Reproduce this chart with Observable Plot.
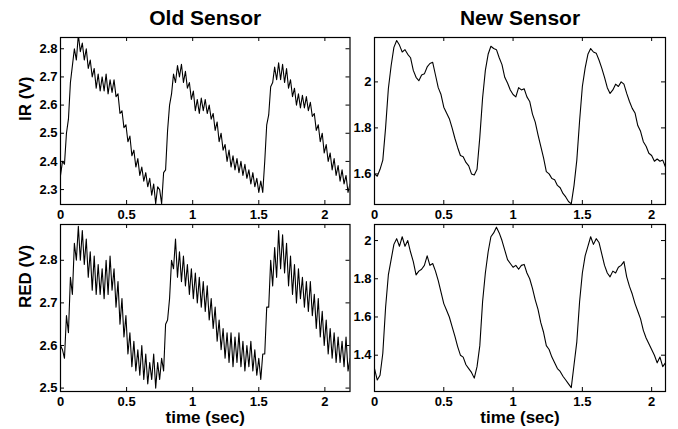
<!DOCTYPE html>
<html>
<head>
<meta charset="utf-8">
<script src="https://cdn.jsdelivr.net/npm/d3@7"></script>
<script src="https://cdn.jsdelivr.net/npm/@observablehq/plot@0.6"></script>
<style>
  body { margin: 0; background: white; }
  #wrap { position: relative; width: 678px; height: 429px; overflow: hidden; }
  .panel { position: absolute; }
</style>
</head>
<body>
<div id="wrap"></div>
<script>
// Sampling intervals (seconds)
const dtOld = 0.015;
const dtNew = 0.02;

// Old sensor, IR channel (V)
const oldIR = [
  2.35, 2.40, 2.39, 2.50, 2.55, 2.68, 2.74, 2.80, 2.76, 2.85,
  2.79, 2.82, 2.76, 2.80, 2.73, 2.76, 2.70, 2.73, 2.66, 2.71,
  2.65, 2.70, 2.65, 2.71, 2.64, 2.69, 2.645, 2.69, 2.63, 2.64,
  2.57, 2.58, 2.52, 2.53, 2.47, 2.49, 2.42, 2.44, 2.38, 2.41,
  2.35, 2.38, 2.33, 2.36, 2.31, 2.34, 2.28, 2.32, 2.25, 2.31,
  2.30, 2.25, 2.36, 2.37, 2.51, 2.60, 2.64, 2.71, 2.68, 2.74,
  2.70, 2.745, 2.68, 2.72, 2.66, 2.68, 2.62, 2.65, 2.58, 2.62,
  2.57, 2.625, 2.58, 2.62, 2.57, 2.60, 2.55, 2.57, 2.51, 2.54,
  2.47, 2.50, 2.44, 2.46, 2.40, 2.44, 2.38, 2.42, 2.37, 2.41,
  2.36, 2.40, 2.35, 2.39, 2.34, 2.37, 2.32, 2.36, 2.31, 2.34,
  2.29, 2.33, 2.29, 2.40, 2.53, 2.565, 2.665, 2.68, 2.735, 2.69,
  2.75, 2.69, 2.745, 2.68, 2.73, 2.66, 2.69, 2.63, 2.66, 2.60,
  2.64, 2.59, 2.635, 2.59, 2.63, 2.58, 2.61, 2.56, 2.57, 2.51,
  2.53, 2.47, 2.50, 2.43, 2.46, 2.40, 2.43, 2.37, 2.41, 2.35,
  2.385, 2.33, 2.37, 2.32, 2.35, 2.29, 2.32
];

// Old sensor, RED channel (V)
const oldRED = [
  2.60, 2.59, 2.57, 2.67, 2.63, 2.76, 2.72, 2.84, 2.80, 2.88,
  2.80, 2.87, 2.79, 2.85, 2.76, 2.82, 2.73, 2.81, 2.72, 2.79,
  2.72, 2.78, 2.71, 2.80, 2.72, 2.81, 2.73, 2.78, 2.69, 2.75,
  2.65, 2.71, 2.62, 2.67, 2.58, 2.63, 2.55, 2.61, 2.54, 2.59,
  2.53, 2.60, 2.52, 2.58, 2.51, 2.56, 2.52, 2.58, 2.50, 2.56,
  2.52, 2.57, 2.54, 2.65, 2.66, 2.71, 2.80, 2.78, 2.85, 2.76,
  2.82, 2.75, 2.81, 2.74, 2.79, 2.72, 2.78, 2.71, 2.77, 2.70,
  2.76, 2.69, 2.75, 2.68, 2.74, 2.66, 2.71, 2.64, 2.69, 2.61,
  2.66, 2.59, 2.64, 2.57, 2.63, 2.56, 2.63, 2.55, 2.62, 2.56,
  2.63, 2.55, 2.61, 2.54, 2.60, 2.55, 2.61, 2.54, 2.59, 2.53,
  2.57, 2.52, 2.58, 2.58, 2.69, 2.69, 2.80, 2.74, 2.83, 2.76,
  2.87, 2.78, 2.86, 2.77, 2.84, 2.74, 2.81, 2.72, 2.79, 2.70,
  2.78, 2.71, 2.76, 2.69, 2.75, 2.68, 2.75, 2.67, 2.72, 2.64,
  2.71, 2.62, 2.68, 2.60, 2.66, 2.58, 2.64, 2.57, 2.63, 2.56,
  2.62, 2.56, 2.61, 2.55, 2.62, 2.54, 2.57
];

// New sensor, IR channel (V)
const newIR = [
  1.60, 1.59, 1.62, 1.66, 1.80, 1.97, 2.07, 2.15, 2.18, 2.16,
  2.13, 2.14, 2.12, 2.105, 2.05, 2.02, 2.005, 2.03, 2.035, 2.065,
  2.08, 2.085, 2.03, 1.975, 1.945, 1.89, 1.865, 1.84, 1.80, 1.755,
  1.715, 1.68, 1.675, 1.65, 1.635, 1.60, 1.595, 1.62, 1.76, 1.93,
  2.05, 2.12, 2.155, 2.145, 2.14, 2.105, 2.075, 2.02, 1.995, 1.965,
  1.945, 1.935, 1.975, 1.965, 1.97, 1.935, 1.915, 1.86, 1.825, 1.77,
  1.72, 1.67, 1.61, 1.60, 1.58, 1.575, 1.55, 1.54, 1.515, 1.50,
  1.48, 1.47, 1.55, 1.66, 1.83, 1.98, 2.06, 2.12, 2.145, 2.13,
  2.125, 2.095, 2.06, 2.02, 1.975, 1.95, 1.965, 1.99, 1.98, 2.00,
  1.99, 1.95, 1.915, 1.885, 1.865, 1.81, 1.785, 1.74, 1.72, 1.69,
  1.68, 1.655, 1.665, 1.655, 1.66, 1.63
];

// New sensor, RED channel (V)
const newRED = [
  1.33, 1.27, 1.295, 1.41, 1.65, 1.82, 1.90, 1.98, 2.01, 1.97,
  2.02, 1.97, 2.00, 1.94, 1.89, 1.82, 1.84, 1.85, 1.87, 1.92,
  1.87, 1.88, 1.84, 1.79, 1.73, 1.67, 1.635, 1.60, 1.55, 1.50,
  1.445, 1.40, 1.39, 1.35, 1.33, 1.31, 1.28, 1.34, 1.45, 1.68,
  1.83, 1.94, 2.02, 2.04, 2.07, 2.04, 2.00, 1.95, 1.90, 1.88,
  1.86, 1.87, 1.85, 1.87, 1.875, 1.83, 1.80, 1.75, 1.69, 1.64,
  1.57, 1.52, 1.45, 1.43, 1.39, 1.36, 1.33, 1.315, 1.29, 1.27,
  1.25, 1.23, 1.35, 1.47, 1.68, 1.83, 1.92, 1.97, 2.02, 1.98,
  2.01, 1.99, 1.93, 1.87, 1.83, 1.81, 1.84, 1.83, 1.86, 1.87,
  1.89, 1.81, 1.76, 1.72, 1.67, 1.63, 1.59, 1.53, 1.49, 1.46,
  1.43, 1.40, 1.36, 1.39, 1.34, 1.36
];

// Tick labels
const xTicks = [0, 0.5, 1, 1.5, 2];
const yTicksOldIR = [2.3, 2.4, 2.5, 2.6, 2.7, 2.8];
const yTicksNewIR = [1.6, 1.8, 2];
const yTicksOldRED = [2.5, 2.6, 2.7, 2.8];
const yTicksNewRED = [1.4, 1.6, 1.8, 2];

// Texts
const titles = ["Old Sensor", "New Sensor"];
const yLabels = ["IR (V)", "RED (V)"];
const xLabel = "time (sec)";

function series(values, dt) {
  return values.map((v, i) => ({t: i * dt, v}));
}

const FONT = "'Liberation Sans', Arial, Helvetica, sans-serif";

function panel({values, dt, xMax, yDomain, yTicks, left, top, width, height, ml, mr, mt, mb, title, yLabel, xLab}) {
  const ih = height - mt - mb;
  const iw = width - ml - mr;
  const tl = 4;
  const marks = [
    Plot.line(series(values, dt), {x: "t", y: "v", stroke: "black", strokeWidth: 1.1, clip: true}),
    Plot.frame({stroke: "black", strokeWidth: 1.2}),
    Plot.tickX(xTicks, {x: d => d, insetTop: ih - tl, stroke: "black"}),
    Plot.tickX(xTicks, {x: d => d, insetBottom: ih - tl, stroke: "black"}),
    Plot.tickY(yTicks, {y: d => d, insetRight: iw - tl, stroke: "black"}),
    Plot.tickY(yTicks, {y: d => d, insetLeft: iw - tl, stroke: "black"}),
    Plot.axisX(xTicks, {tickSize: 0, tickPadding: 5.5, tickFormat: d => String(d), label: null}),
    Plot.axisY(yTicks, {tickSize: 0, tickPadding: 3, tickFormat: d => String(d), label: null})
  ];
  if (title) marks.push(Plot.text([title], {frameAnchor: "top", dy: -19, lineAnchor: "middle", fontSize: 21, fontWeight: "bold", fill: "black"}));
  if (yLabel) marks.push(Plot.text([yLabel], {frameAnchor: "left", dx: -35, rotate: -90, lineAnchor: "middle", fontSize: 17, fontWeight: "bold", fill: "black"}));
  if (xLab) marks.push(Plot.text([xLab], {frameAnchor: "bottom", dy: 26, lineAnchor: "middle", fontSize: 17, fontWeight: "bold", fill: "black"}));
  const svg = Plot.plot({
    width, height,
    marginLeft: ml, marginRight: mr, marginTop: mt, marginBottom: mb,
    x: {domain: [0, xMax], label: null},
    y: {domain: yDomain, label: null},
    style: {background: "transparent", fontFamily: FONT, fontSize: "13px", fontWeight: "bold", color: "black", overflow: "visible"},
    marks
  });
  const div = document.createElement("div");
  div.className = "panel";
  div.style.left = left + "px";
  div.style.top = top + "px";
  div.appendChild(svg);
  document.getElementById("wrap").appendChild(div);
}

// Top-left: Old sensor IR
panel({values: oldIR, dt: dtOld, xMax: 2.19, yDomain: [2.247, 2.84], yTicks: yTicksOldIR,
  left: 0, top: 0, width: 356, height: 225, ml: 60, mr: 6.5, mt: 37, mb: 21,
  title: titles[0], yLabel: yLabels[0]});
// Top-right: New sensor IR
panel({values: newIR, dt: dtNew, xMax: 2.1, yDomain: [1.467, 2.193], yTicks: yTicksNewIR,
  left: 340, top: 0, width: 338, height: 225, ml: 34, mr: 13, mt: 37, mb: 21,
  title: titles[1]});
// Bottom-left: Old sensor RED
panel({values: oldRED, dt: dtOld, xMax: 2.19, yDomain: [2.492, 2.884], yTicks: yTicksOldRED,
  left: 0, top: 200, width: 356, height: 229, ml: 60, mr: 6.5, mt: 24, mb: 38,
  yLabel: yLabels[1], xLab: xLabel});
// Bottom-right: New sensor RED
panel({values: newRED, dt: dtNew, xMax: 2.1, yDomain: [1.21, 2.084], yTicks: yTicksNewRED,
  left: 340, top: 200, width: 338, height: 229, ml: 34, mr: 13, mt: 24, mb: 38,
  xLab: xLabel});
</script>
</body>
</html>
